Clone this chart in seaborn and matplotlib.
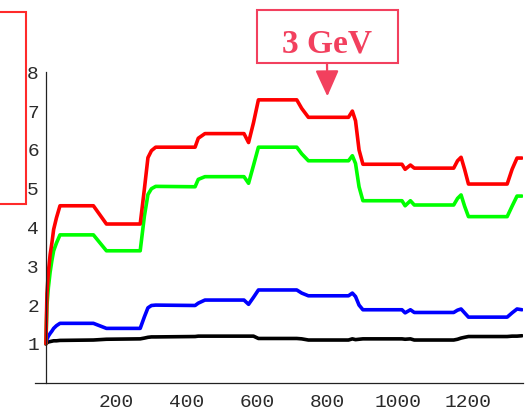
import matplotlib
matplotlib.use("Agg")
import matplotlib.pyplot as plt
import matplotlib.patches as mpatches
from matplotlib.ticker import MultipleLocator
import seaborn as sns
import pandas as pd

# ---- data ----
x = [0, 3, 7, 12, 17, 22, 30, 40, 135, 172, 268, 280, 290, 300, 312, 424, 433, 452,
     563, 576, 590, 604, 713, 727, 746, 860, 871, 880, 890, 901, 1012, 1021, 1036,
     1047, 1159, 1170, 1180, 1190, 1201, 1311, 1325, 1339, 1353]
red = [1.0, 2.3, 2.85, 3.3, 3.6, 3.95, 4.25, 4.56, 4.56, 4.09, 4.09, 5.0, 5.8, 5.98, 6.07,
       6.07, 6.3, 6.42, 6.42, 6.19, 6.7, 7.29, 7.29, 7.07, 6.84, 6.84, 7.0, 6.75, 6.0, 5.63,
       5.63, 5.5, 5.61, 5.53, 5.53, 5.72, 5.81, 5.5, 5.12, 5.12, 5.5, 5.79, 5.79]
green = [1.0, 2.0, 2.45, 2.85, 3.15, 3.4, 3.6, 3.81, 3.81, 3.40, 3.40, 4.3, 4.85, 5.0, 5.06,
         5.05, 5.24, 5.31, 5.31, 5.14, 5.6, 6.07, 6.07, 5.9, 5.72, 5.72, 5.85, 5.65, 5.05, 4.69,
         4.69, 4.56, 4.69, 4.58, 4.58, 4.75, 4.84, 4.55, 4.28, 4.28, 4.55, 4.81, 4.81]
blue = [1.0, 1.12, 1.2, 1.27, 1.33, 1.4, 1.47, 1.53, 1.53, 1.40, 1.40, 1.7, 1.93, 1.99, 2.0,
        1.99, 2.05, 2.13, 2.13, 2.02, 2.2, 2.39, 2.39, 2.31, 2.24, 2.24, 2.31, 2.22, 2.0, 1.88,
        1.88, 1.8, 1.88, 1.81, 1.81, 1.87, 1.9, 1.8, 1.69, 1.69, 1.8, 1.9, 1.88]
black = [1.0, 1.03, 1.05, 1.06, 1.07, 1.08, 1.08, 1.09, 1.1, 1.12, 1.13, 1.15, 1.17, 1.18, 1.18,
         1.19, 1.2, 1.2, 1.2, 1.2, 1.2, 1.14, 1.14, 1.13, 1.1, 1.1, 1.13, 1.11, 1.12, 1.13,
         1.13, 1.12, 1.13, 1.1, 1.1, 1.12, 1.15, 1.17, 1.19, 1.19, 1.2, 1.2, 1.21]
series_names = ["black", "blue", "green", "red"]
series_colors = ["#000000", "#0000ff", "#00ff00", "#ff0000"]
x_ticks = [200, 400, 600, 800, 1000, 1200]
y_ticks = [1, 2, 3, 4, 5, 6, 7, 8]
label_text = "3 GeV"
arrow_x, arrow_y = 800, 7.38

rows = []
for name, ys in zip(series_names, [black, blue, green, red]):
    for xi, yi in zip(x, ys):
        rows.append({"x": xi, "y": yi, "s": name})
df = pd.DataFrame(rows)

sns.set_style("white")
W, H = 529, 412
fig = plt.figure(figsize=(W / 100, H / 100), dpi=100)
ax = fig.add_axes([35 / W, 1 - 382.7 / H, (523 - 35) / W, (382.7 - 72.3) / H])

sns.lineplot(data=df, x="x", y="y", hue="s", palette=dict(zip(series_names, series_colors)),
             hue_order=series_names, sort=False, estimator=None, linewidth=2.6,
             legend=False, ax=ax)
for ln in ax.lines:
    ln.set_solid_joinstyle("round")
    ln.set_solid_capstyle("round")

ax.set_xlim(-31, 1356)
ax.set_ylim(0, 8)
ax.set_xlabel("")
ax.set_ylabel("")
for s in ["top", "right"]:
    ax.spines[s].set_visible(False)
ax.spines["left"].set_position(("data", 0))
ax.spines["bottom"].set_position(("data", 0))
ax.spines["left"].set_bounds(0, 8)
for s in ["left", "bottom"]:
    ax.spines[s].set_color("#222222")
    ax.spines[s].set_linewidth(0.9)

ax.set_xticks(x_ticks)
ax.set_yticks(y_ticks)
ax.xaxis.set_minor_locator(MultipleLocator(50))
ax.yaxis.set_minor_locator(MultipleLocator(0.2))
ax.tick_params(which="both", direction="in", color="#222222", width=0.8)
ax.tick_params(which="major", length=3.5)
ax.tick_params(which="minor", length=2)
ax.tick_params(axis="x", which="major", pad=8)
ax.tick_params(axis="y", which="major", pad=5)
for lab in ax.get_xticklabels() + ax.get_yticklabels():
    lab.set_fontfamily("Liberation Mono")
    lab.set_fontsize(14)
    lab.set_color("#2a2a2a")
ax.grid(False)

gev_col = "#f2405e"
# label box
fig.patches.append(mpatches.Rectangle((257 / W, 1 - 63 / H), (398 - 257) / W, (63 - 10) / H,
                                      transform=fig.transFigure, fill=False,
                                      edgecolor=gev_col, linewidth=1.5))
fig.text(327 / W, 1 - 44 / H, label_text, fontfamily="Liberation Serif", fontweight="bold",
         fontsize=24, color=gev_col, ha="center", va="center")
ax.annotate("", xy=(arrow_x, arrow_y), xycoords="data",
            xytext=(327 / W, 1 - 63 / H), textcoords="figure fraction",
            arrowprops=dict(arrowstyle="-|>,head_length=1.0,head_width=0.45",
                            color=gev_col, lw=1.6, shrinkA=0, shrinkB=0,
                            mutation_scale=16))
# partially visible box at the left edge
fig.patches.append(mpatches.Rectangle((-10 / W, 1 - 204 / H), (25.5 + 10) / W, (204 - 11.5) / H,
                                      transform=fig.transFigure, fill=False,
                                      edgecolor="#ff2a2a", linewidth=1.5))

fig.savefig("out.png", dpi=100)
